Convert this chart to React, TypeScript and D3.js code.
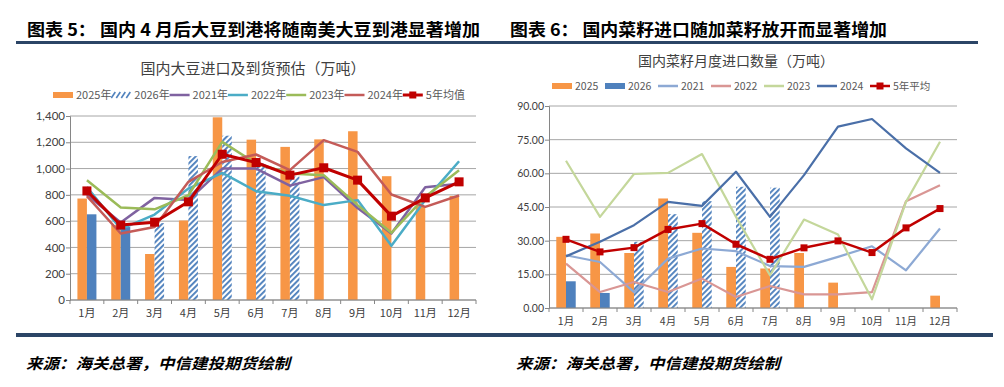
import React, { useRef, useEffect } from "react";
import * as d3 from "d3";

const months = ["1月", "2月", "3月", "4月", "5月", "6月", "7月", "8月", "9月", "10月", "11月", "12月"];

// 图表5：国内大豆进口及到货预估（万吨）
const soy2025 = [772, 570, 350, 605, 1390, 1220, 1165, 1222, 1284, 942, 715, 792];
const soy2026Actual = [652, 555, null, null, null, null, null, null, null, null, null, null];
const soy2026Est = [null, null, 585, 1095, 1250, 1040, 940, null, null, null, null, null];
const soy2021 = [800, 590, 777, 760, 1000, 1000, 870, 935, 700, 506, 858, 885];
const soy2022 = [860, 540, 650, 848, 967, 828, 793, 722, 760, 413, 760, 1056];
const soy2023 = [911, 704, 690, 797, 1203, 1039, 963, 950, 722, 511, 785, 987];
const soy2024 = [790, 506, 555, 899, 1050, 1107, 988, 1216, 1127, 803, 709, 795];
const soyAvg = [830, 570, 592, 747, 1109, 1046, 950, 1006, 912, 638, 777, 899];

// 图表6：国内菜籽月度进口数量（万吨）
const rs2025 = [31.7, 33.2, 24.5, 48.8, 33.5, 18.3, 17.6, 24.5, 11.3, null, null, 5.5];
const rs2026Actual = [11.9, 6.7, null, null, null, null, null, null, null, null, null, null];
const rs2026Est = [null, null, 29.5, 41.8, 47.6, 54.0, 53.6, null, null, null, null, null];
const rs2021 = [23.5, 20.5, 7.1, 22.0, 26.5, 25.3, 18.7, 18.3, 22.8, 27.5, 16.8, 35.4];
const rs2022 = [19.8, 7.1, 11.6, 7.1, 13.1, 4.9, 9.8, 6.1, 6.1, 7.1, 47.6, 54.7];
const rs2023 = [65.6, 40.6, 59.7, 60.2, 68.6, 40.6, 14.6, 39.4, 32.7, 3.9, 47.3, 74.1];
const rs2024 = [23.0, 29.5, 36.9, 47.3, 45.5, 60.7, 40.6, 59.2, 80.8, 84.2, 71.1, 60.2];
const rsAvg = [30.6, 25.0, 26.9, 35.0, 37.6, 28.4, 21.7, 26.8, 29.9, 24.7, 35.7, 44.3];

const CJK = "'Noto Sans CJK SC', sans-serif";
const NUM = "Lato, 'Liberation Sans', sans-serif";

const drawPanel = (svg, o) => {
  const g = svg.append("g");
  const x = d3.scaleBand().domain(months).range([o.left, o.right]);
  const y = d3.scaleLinear().domain([0, o.yMax]).range([o.bottom, o.top]);
  const sub = d3.scaleBand().domain(["a", "b"]).range([0, x.bandwidth()]).paddingOuter(o.barPad);

  // gridlines
  const ticks = d3.range(0, o.yMax + o.yStep / 2, o.yStep);
  g.selectAll(".grid").data(ticks).join("line")
    .attr("x1", o.left).attr("x2", o.right)
    .attr("y1", d => y(d)).attr("y2", d => y(d))
    .attr("stroke", "#A6A6A6").attr("stroke-width", 1);

  // y axis
  const yAxis = d3.axisLeft(y).tickValues(ticks).tickSize(4).tickFormat(o.fmt);
  const ya = g.append("g").attr("transform", `translate(${o.left},0)`).call(yAxis);
  ya.select(".domain").attr("stroke", "#868686");
  ya.selectAll(".tick line").attr("stroke", "#868686");
  ya.selectAll("text").attr("font-family", NUM).attr("font-size", o.yFont).attr("fill", "#404040").attr("x", -5);

  // bars
  const bar = (vals, slot, fill) => {
    g.append("g").selectAll("rect").data(vals.map((v, i) => ({ v, m: months[i] })).filter(d => d.v != null))
      .join("rect")
      .attr("x", d => x(d.m) + sub(slot))
      .attr("width", sub.bandwidth())
      .attr("y", d => y(d.v))
      .attr("height", d => y(0) - y(d.v))
      .attr("fill", fill);
  };
  bar(o.bars[0], "a", "#F79646");
  bar(o.bars[1], "b", "#4F81BD");
  bar(o.bars[2], "b", "url(#hatch)");

  // x axis
  g.append("line").attr("x1", o.left).attr("x2", o.right).attr("y1", o.bottom).attr("y2", o.bottom)
    .attr("stroke", "#868686");
  g.selectAll(".xt").data(d3.range(13)).join("line")
    .attr("x1", i => o.left + i * x.step()).attr("x2", i => o.left + i * x.step())
    .attr("y1", o.bottom).attr("y2", o.bottom + 4).attr("stroke", "#868686");
  g.selectAll(".xl").data(months).join("text")
    .attr("x", d => x(d) + x.bandwidth() / 2).attr("y", o.bottom + o.xLabelDy)
    .attr("text-anchor", "middle").attr("font-family", CJK).attr("font-size", o.xFont)
    .attr("fill", "#404040").text(d => d);

  // lines
  const lineGen = d3.line().defined(d => d != null)
    .x((_, i) => x(months[i]) + x.bandwidth() / 2).y(d => y(d));
  o.lines.forEach(s => {
    g.append("path").attr("d", lineGen(s.values)).attr("fill", "none")
      .attr("stroke", s.color).attr("stroke-width", s.width).attr("stroke-linejoin", "round");
    if (s.marker) {
      g.append("g").selectAll("rect").data(s.values).join("rect")
        .attr("x", (_, i) => x(months[i]) + x.bandwidth() / 2 - s.marker / 2)
        .attr("y", d => y(d) - s.marker / 2)
        .attr("width", s.marker).attr("height", s.marker).attr("fill", s.color);
    }
  });

  // title
  g.append("text").attr("x", o.titleX).attr("y", o.titleY).attr("text-anchor", "middle")
    .attr("font-family", CJK).attr("font-size", o.titleFont).attr("fill", "#404040").text(o.title);

  // legend
  o.legend.forEach((it, i) => {
    const lx = o.legX + i * o.legStep;
    const lg = g.append("g");
    if (it.type === "rect") {
      lg.append("rect").attr("x", lx).attr("y", o.legY - 3).attr("width", 20).attr("height", 6).attr("fill", it.color);
    } else if (it.type === "hatch") {
      lg.selectAll("line").data(d3.range(4)).join("line")
        .attr("x1", k => lx + k * 5).attr("x2", k => lx + k * 5 + 4)
        .attr("y1", o.legY + 3).attr("y2", o.legY - 3)
        .attr("stroke", "#4F81BD").attr("stroke-width", 1.6);
    } else {
      lg.append("line").attr("x1", lx).attr("x2", lx + 20).attr("y1", o.legY).attr("y2", o.legY)
        .attr("stroke", it.color).attr("stroke-width", it.width || 2.5);
      if (it.marker) {
        lg.append("rect").attr("x", lx + 10 - it.marker / 2).attr("y", o.legY - it.marker / 2)
          .attr("width", it.marker).attr("height", it.marker).attr("fill", it.color);
      }
    }
    lg.append("text").attr("x", lx + 23).attr("y", o.legY + 4)
      .attr("font-family", o.legFontFamily).attr("font-size", o.legFont).attr("fill", "#595959").text(it.label);
  });
};

const App = () => {
  const svgRef = useRef(null);

  useEffect(() => {
    draw();
  }, []);

  const draw = () => {
    const svg = d3.select(svgRef.current);
    svgRef.current.querySelectorAll("*").forEach(n => n.remove());

    const defs = svg.append("defs");
    const pat = defs.append("pattern").attr("id", "hatch").attr("patternUnits", "userSpaceOnUse")
      .attr("width", 4).attr("height", 4).attr("patternTransform", "rotate(45)");
    pat.append("rect").attr("width", 4).attr("height", 4).attr("fill", "#fff");
    pat.append("rect").attr("width", 1.9).attr("height", 4).attr("fill", "#4F81BD");

    svg.append("rect").attr("width", 1004).attr("height", 387).attr("fill", "#fff");

    // headings
    svg.append("text").attr("x", 27).attr("y", 36).attr("font-family", CJK).attr("font-weight", 700)
      .attr("font-size", 17).attr("textLength", 453).attr("lengthAdjust", "spacingAndGlyphs")
      .text("图表 5： 国内 4 月后大豆到港将随南美大豆到港显著增加");
    svg.append("text").attr("x", 510).attr("y", 36).attr("font-family", CJK).attr("font-weight", 700)
      .attr("font-size", 17).attr("textLength", 377).attr("lengthAdjust", "spacingAndGlyphs")
      .text("图表 6： 国内菜籽进口随加菜籽放开而显著增加");
    svg.append("line").attr("x1", 16).attr("x2", 978).attr("y1", 42.5).attr("y2", 42.5)
      .attr("stroke", "#2B4566").attr("stroke-width", 3);
    svg.append("line").attr("x1", 16).attr("x2", 993).attr("y1", 335).attr("y2", 335)
      .attr("stroke", "#2B4566").attr("stroke-width", 4);
    [26, 516].forEach(fx => {
      svg.append("text").attr("x", fx).attr("y", 369).attr("font-family", CJK).attr("font-weight", 700)
        .attr("font-style", "italic").attr("font-size", 15).attr("textLength", 264)
        .attr("lengthAdjust", "spacingAndGlyphs").text("来源：海关总署，中信建投期货绘制");
    });

    drawPanel(svg, {
      left: 70, right: 476, top: 116, bottom: 300, yMax: 1400, yStep: 200,
      fmt: d3.format(","), yFont: 11.5, xFont: 11, xLabelDy: 17, barPad: 0.78,
      bars: [soy2025, soy2026Actual, soy2026Est],
      lines: [
        { values: soy2021, color: "#7F62A0", width: 2.5 },
        { values: soy2022, color: "#4BACC6", width: 2.5 },
        { values: soy2023, color: "#9BBB59", width: 2.5 },
        { values: soy2024, color: "#C45B58", width: 2.5 },
        { values: soyAvg, color: "#C00000", width: 3, marker: 9 },
      ],
      title: "国内大豆进口及到货预估（万吨）", titleX: 253, titleY: 74, titleFont: 15,
      legX: 53, legY: 95, legStep: 58.3, legFont: 11, legFontFamily: CJK,
      legend: [
        { type: "rect", color: "#F79646", label: "2025年" },
        { type: "hatch", label: "2026年" },
        { type: "line", color: "#7F62A0", label: "2021年" },
        { type: "line", color: "#4BACC6", label: "2022年" },
        { type: "line", color: "#9BBB59", label: "2023年" },
        { type: "line", color: "#C45B58", label: "2024年" },
        { type: "line", color: "#C00000", label: "5年均值", marker: 7, width: 3 },
      ],
    });

    drawPanel(svg, {
      left: 549, right: 957, top: 106, bottom: 308, yMax: 90, yStep: 15,
      fmt: d3.format(".2f"), yFont: 10.5, xFont: 10.5, xLabelDy: 17, barPad: 0.75,
      bars: [rs2025, rs2026Actual, rs2026Est],
      lines: [
        { values: rs2021, color: "#8DA9D4", width: 2.2 },
        { values: rs2022, color: "#D99694", width: 2.2 },
        { values: rs2023, color: "#C4D79B", width: 2.2 },
        { values: rs2024, color: "#4A6FA8", width: 2.2 },
        { values: rsAvg, color: "#C00000", width: 2.5, marker: 7 },
      ],
      title: "国内菜籽月度进口数量（万吨）", titleX: 736, titleY: 66, titleFont: 14,
      legX: 552, legY: 86, legStep: 53, legFont: 10.5, legFontFamily: CJK,
      legend: [
        { type: "rect", color: "#F79646", label: "2025" },
        { type: "rect", color: "#4F81BD", label: "2026" },
        { type: "line", color: "#8DA9D4", label: "2021" },
        { type: "line", color: "#D99694", label: "2022" },
        { type: "line", color: "#C4D79B", label: "2023" },
        { type: "line", color: "#4A6FA8", label: "2024" },
        { type: "line", color: "#C00000", label: "5年平均", marker: 7 },
      ],
    });
  };

  return (
    <svg ref={svgRef} width={1004} height={387} style={{ position: "absolute", left: 0, top: 0 }} />
  );
};

export default App;
